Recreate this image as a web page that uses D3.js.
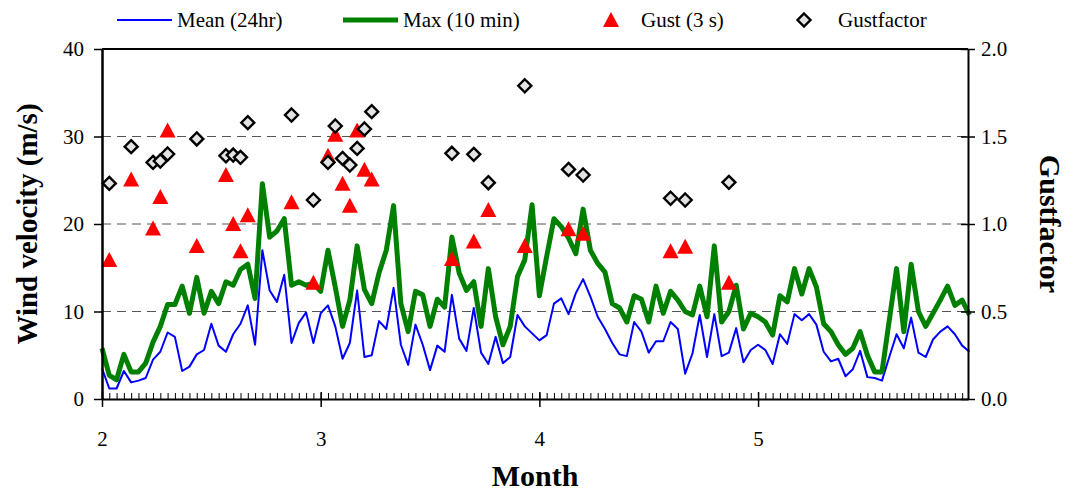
<!DOCTYPE html>
<html>

<head>
    <meta charset="utf-8" />
    <script src="https://d3js.org/d3.v7.min.js"></script>
    <style>
        body {
            margin: 0;
            background: #fff;
        }

        svg text {
            font-family: "Liberation Serif", "DejaVu Serif", serif !important;
        }
    </style>
</head>

<body>
    <script>
        // daily values, one per day from month 2.0 (step 1/30 month)
        const meanVel = [3.5, 1.2, 1.2, 3.2, 1.9, 2.1, 2.4, 4.5, 5.4, 7.6,
            7.1, 3.2, 3.7, 5.1, 5.6, 8.6, 6.1, 5.4, 7.4, 8.6,
            10.7, 6.2, 17.0, 12.4, 11.1, 14.2, 6.4, 8.7, 9.9, 6.4,
            9.8, 10.7, 8.3, 4.6, 6.4, 12.4, 4.8, 5.0, 8.9, 8.0,
            12.7, 6.2, 3.9, 8.5, 6.2, 3.3, 6.1, 5.4, 11.9, 6.9,
            5.5, 10.4, 5.3, 4.0, 7.1, 4.1, 4.8, 9.6, 8.3, 7.5,
            6.7, 7.3, 10.9, 11.5, 9.7, 12.1, 13.7, 11.7, 9.4, 8.0,
            6.4, 5.1, 4.9, 8.8, 7.7, 5.3, 6.6, 6.6, 8.8, 8.0,
            2.9, 5.2, 9.6, 4.8, 9.7, 4.9, 5.3, 8.1, 4.2, 5.6,
            6.2, 5.6, 4.0, 7.4, 6.3, 9.7, 9.0, 9.7, 8.5, 5.4,
            4.3, 4.6, 2.6, 3.4, 5.5, 2.5, 2.4, 2.1, 4.8, 7.4,
            5.8, 9.3, 5.3, 4.8, 6.8, 7.7, 8.3, 7.4, 6.1, 5.4
        ];

        const maxVel = [5.8, 2.7, 2.2, 5.1, 3.1, 3.1, 4.1, 6.5, 8.3, 10.8,
            10.8, 12.9, 9.8, 13.9, 9.8, 12.3, 10.9, 13.4, 13.0, 14.8,
            15.4, 11.5, 24.6, 18.5, 19.2, 20.6, 13.0, 13.4, 13.0, 13.2,
            12.3, 17.0, 12.8, 8.3, 11.3, 17.5, 12.5, 10.9, 14.4, 17.0,
            22.1, 10.9, 7.7, 12.3, 11.9, 8.3, 11.4, 10.5, 18.5, 14.4,
            12.4, 13.4, 8.3, 14.9, 9.4, 6.2, 8.3, 14.0, 15.9, 22.2,
            11.8, 16.3, 20.6, 19.7, 18.4, 16.6, 21.7, 17.0, 15.5, 14.5,
            10.9, 10.4, 8.8, 11.8, 11.4, 8.8, 12.9, 9.8, 12.3, 11.3,
            10.0, 9.6, 12.9, 9.4, 17.5, 8.8, 10.0, 13.0, 8.0, 9.8,
            9.4, 8.8, 7.3, 11.8, 11.1, 14.9, 12.0, 14.9, 12.8, 8.6,
            7.7, 6.2, 5.1, 5.8, 7.7, 5.0, 3.1, 3.1, 9.0, 14.9,
            7.7, 15.4, 10.0, 8.3, 9.8, 11.3, 12.9, 10.7, 11.3, 9.6
        ];

        // days (index from start) with a gust record
        const gustDays = [1, 4, 7, 8, 9, 13, 17, 18, 19, 20, 26, 29, 31, 32, 33, 34, 35, 36, 37,
            48, 51, 53, 58, 64, 66, 78, 80, 86
        ];
        const gustVel = [15.9, 25.1, 19.5, 23.1, 30.7, 17.5, 25.6, 20.0, 16.9, 21.0, 22.5, 13.3,
            27.8, 30.2, 24.6, 22.1, 30.7, 26.2, 25.1, 16.0, 18.0, 21.6, 17.5, 19.4, 18.9, 16.9, 17.4, 13.3
        ];
        const gustFactor = [1.232, 1.442, 1.352, 1.36, 1.40, 1.486, 1.39, 1.394, 1.381, 1.579, 1.623,
            1.137, 1.352, 1.56, 1.375, 1.337, 1.432, 1.543, 1.642, 1.404, 1.398, 1.236, 1.79, 1.312,
            1.28, 1.147, 1.137, 1.238
        ];

        const monthTicks = [2, 3, 4, 5];
        const velTicks = [0, 10, 20, 30, 40];
        const factorTicks = [0, 0.5, 1.0, 1.5, 2.0];

        const dayToMonth = i => 2 + i / 30;
        const serif = '"Liberation Serif", "DejaVu Serif", serif';

        // dimensions
        const margin = { top: 49, right: 99, bottom: 94, left: 102 };
        const W = 1067, H = 493;
        const width = W - margin.left - margin.right;
        const height = H - margin.top - margin.bottom;

        const root = d3.select('body').append('svg')
            .attr('width', W)
            .attr('height', H)
            .attr('font-family', serif);

        const svg = root.append('g')
            .attr('transform', `translate(${margin.left},${margin.top})`);

        const x = d3.scaleLinear().domain([2, 5.96]).range([0, width]);
        const y = d3.scaleLinear().domain([0, 40]).range([height, 0]);
        const y2 = d3.scaleLinear().domain([0, 2]).range([height, 0]);

        // dashed grid lines
        svg.append('g')
            .selectAll('line')
            .data(velTicks.filter(v => v > 0 && v < 40))
            .enter()
            .append('line')
            .attr('x1', 0)
            .attr('x2', width)
            .attr('y1', d => y(d))
            .attr('y2', d => y(d))
            .attr('stroke', '#555')
            .attr('stroke-width', 1)
            .attr('stroke-dasharray', '9,6');

        // top border
        svg.append('line')
            .attr('x1', 0).attr('x2', width)
            .attr('y1', 0).attr('y2', 0)
            .attr('stroke', '#000').attr('stroke-width', 2);

        // lines
        const velLine = d3.line()
            .x((d, i) => x(dayToMonth(i)))
            .y(d => y(d));

        svg.append('path')
            .datum(meanVel)
            .attr('d', velLine)
            .attr('fill', 'none')
            .attr('stroke', '#0000ff')
            .attr('stroke-width', 2)
            .attr('stroke-linejoin', 'round');

        svg.append('path')
            .datum(maxVel)
            .attr('d', velLine)
            .attr('fill', 'none')
            .attr('stroke', '#008000')
            .attr('stroke-width', 5)
            .attr('stroke-linejoin', 'round');

        const triPath = 'M0,-8L8,7L-8,7Z';
        const diamondPath = 'M0,-6.5L6.5,0L0,6.5L-6.5,0Z';

        // gust markers
        svg.append('g')
            .selectAll('path')
            .data(gustDays)
            .enter()
            .append('path')
            .attr('d', triPath)
            .attr('transform', (d, i) => `translate(${x(dayToMonth(d))},${y(gustVel[i])})`)
            .attr('fill', '#ff0000');

        // gustfactor markers
        svg.append('g')
            .selectAll('path')
            .data(gustDays)
            .enter()
            .append('path')
            .attr('d', diamondPath)
            .attr('transform', (d, i) => `translate(${x(dayToMonth(d))},${y2(gustFactor[i])})`)
            .attr('fill', '#e3e3e3')
            .attr('stroke', '#000')
            .attr('stroke-width', 2.4);

        // x axis: minor daily ticks inside, major ticks crossing
        const minorTicks = d3.range(0, 120).map(dayToMonth).filter(v => v <= 5.96);
        svg.append('g')
            .attr('transform', `translate(0,${height})`)
            .call(d3.axisBottom(x).tickValues(minorTicks).tickSize(-6).tickFormat(''))
            .call(g => g.select('.domain').remove());

        const xAxis = svg.append('g')
            .attr('transform', `translate(0,${height})`)
            .call(d3.axisBottom(x).tickValues(monthTicks).tickSize(8).tickSizeOuter(0).tickPadding(32)
                .tickFormat(d3.format('d')));
        xAxis.attr('font-family', serif);
        xAxis.selectAll('.tick line').attr('y1', -7).attr('stroke-width', 1.5);
        xAxis.select('.domain').attr('stroke-width', 2);
        xAxis.selectAll('text').style('font-size', '21px').attr('dy', '0.32em');

        // left axis
        const yAxis = svg.append('g')
            .call(d3.axisLeft(y).tickValues(velTicks).tickSize(8).tickSizeOuter(0).tickPadding(10));
        yAxis.attr('font-family', serif);
        yAxis.select('.domain').attr('stroke-width', 2.5);
        yAxis.selectAll('.tick line').attr('stroke-width', 1.5);
        yAxis.selectAll('text').style('font-size', '21px');

        // right axis
        const y2Axis = svg.append('g')
            .attr('transform', `translate(${width},0)`)
            .call(d3.axisRight(y2).tickValues(factorTicks).tickSize(7).tickSizeOuter(0).tickPadding(6)
                .tickFormat(d3.format('.1f')));
        y2Axis.attr('font-family', serif);
        y2Axis.select('.domain').attr('stroke-width', 2);
        y2Axis.selectAll('.tick line').attr('x1', -7).attr('stroke-width', 1.5);
        y2Axis.selectAll('text').style('font-size', '21px');

        // axis titles
        root.append('text')
            .attr('transform', `translate(37,${margin.top + height / 2}) rotate(-90)`)
            .attr('text-anchor', 'middle')
            .style('font-size', '29px')
            .style('font-weight', 'bold')
            .text('Wind velocity (m/s)');

        root.append('text')
            .attr('transform', `translate(1040,${margin.top + height / 2}) rotate(90)`)
            .attr('text-anchor', 'middle')
            .style('font-size', '30px')
            .style('font-weight', 'bold')
            .text('Gustfactor');

        root.append('text')
            .attr('x', 535)
            .attr('y', 486)
            .attr('text-anchor', 'middle')
            .style('font-size', '30px')
            .style('font-weight', 'bold')
            .text('Month');

        // legend
        const legend = root.append('g');
        const ly = 20;

        legend.append('line')
            .attr('x1', 117).attr('x2', 172).attr('y1', ly).attr('y2', ly)
            .attr('stroke', '#0000ff').attr('stroke-width', 2);
        legend.append('text').attr('x', 177).attr('y', ly + 7).style('font-size', '21px').text('Mean (24hr)');

        legend.append('line')
            .attr('x1', 343).attr('x2', 398).attr('y1', ly).attr('y2', ly)
            .attr('stroke', '#008000').attr('stroke-width', 5);
        legend.append('text').attr('x', 403).attr('y', ly + 7).style('font-size', '21px').text('Max (10 min)');

        legend.append('path')
            .attr('d', triPath)
            .attr('transform', `translate(611,${ly})`)
            .attr('fill', '#ff0000');
        legend.append('text').attr('x', 641).attr('y', ly + 7).style('font-size', '21px').text('Gust (3 s)');

        legend.append('path')
            .attr('d', diamondPath)
            .attr('transform', `translate(804,${ly})`)
            .attr('fill', '#e3e3e3')
            .attr('stroke', '#000')
            .attr('stroke-width', 2.4);
        legend.append('text').attr('x', 838).attr('y', ly + 7).style('font-size', '21px').text('Gustfactor');
    </script>
</body>

</html>
